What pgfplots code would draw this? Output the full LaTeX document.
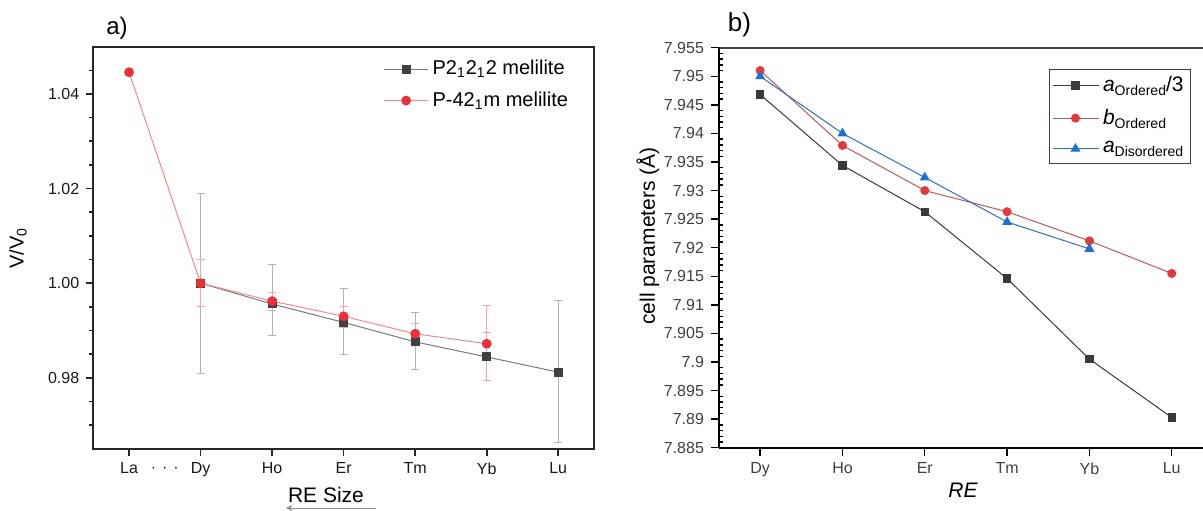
\documentclass[border=0pt]{standalone}
\usepackage{fontspec}
\setmainfont{Liberation Sans}
\usepackage{pgfplots}
\pgfplotsset{compat=1.18}
\usepackage{pgfplotstable}

\definecolor{blk}{HTML}{404040}
\definecolor{blkline}{HTML}{7A7A7A}
\definecolor{blkerr}{HTML}{B4B4B4}
\definecolor{redm}{HTML}{EC3038}
\definecolor{redline}{HTML}{F08A8A}
\definecolor{rederr}{HTML}{F2A8A8}
\definecolor{rblk}{HTML}{3A3A3A}
\definecolor{rred}{HTML}{E23A3A}
\definecolor{rredline}{HTML}{B85A5A}
\definecolor{rblue}{HTML}{1F6FD8}
\definecolor{rblueline}{HTML}{2F6FC0}
\definecolor{tl}{HTML}{404040}

\newcommand{\sub}[1]{\raisebox{-0.35ex}{\fontsize{7}{8}\selectfont #1}}

\pgfplotstableread{
x y ep em
1 1.0000 0.0190 0.0190
2 0.9956 0.0084 0.0067
3 0.9917 0.0072 0.0068
4 0.9876 0.0062 0.0058
5 0.9844 0.0051 0.0049
6 0.9812 0.0151 0.0148
}\leftblack

\pgfplotstableread{
x y ep em
0 1.0446 0.0000 0.0000
1 1.0000 0.0050 0.0050
2 0.9962 0.0018 0.0020
3 0.9930 0.0020 0.0023
4 0.9893 0.0022 0.0022
5 0.9872 0.0080 0.0078
}\leftred

\pgfplotstableread{
x y
0 7.9468
1 7.9344
2 7.9263
3 7.9146
4 7.9005
5 7.8903
}\rightblack

\pgfplotstableread{
x y
0 7.9510
1 7.9379
2 7.9300
3 7.9263
4 7.9212
5 7.9155
}\rightred

\pgfplotstableread{
x y
0 7.9500
1 7.9400
2 7.9323
3 7.9245
4 7.9198
}\rightblue

\begin{document}
\begin{tikzpicture}[x=1pt,y=1pt]
\useasboundingbox (0,0) rectangle (601.5,255);

% ---------------- panel a ----------------
\begin{axis}[
  at={(46.65pt,30.65pt)}, anchor=south west,
  scale only axis, width=250.35pt, height=201pt,
  xmin=-0.5, xmax=6.5, ymin=0.965, ymax=1.05,
  xtick={0,...,6}, xticklabels={La,Dy,Ho,Er,Tm,Yb,Lu},
  ytick={0.98,1.00,1.02,1.04},
  minor ytick={0.97,0.975,0.985,0.99,0.995,1.005,1.01,1.015,1.025,1.03,1.035,1.045},
  tick pos=left, tick align=outside,
  major tick length=3.5pt, minor tick length=2pt,
  axis line style={draw=black!85, line width=1pt},
  tick style={color=black!85, line width=0.8pt},
  scaled y ticks=false,
  yticklabel style={/pgf/number format/.cd, fixed, fixed zerofill, precision=2},
  /pgf/number format/assume math mode=true,
  ticklabel style={font=\fontsize{8}{9}\selectfont, text=black!90},
  clip=false,
  legend cell align=left,
  legend style={at={(axis description cs:0.575,0.982)}, anchor=north west,
    draw=none, fill=none, font=\fontsize{10}{12}\selectfont, row sep=3pt, inner sep=1pt},
  legend image code/.code={\draw[mark repeat=2,mark phase=2,#1] plot coordinates {(0pt,0pt) (11pt,0pt) (22pt,0pt)};},
]
\addplot[color=blkline, line width=0.5pt, mark=square*, mark size=2pt,
  mark options={draw=blk, fill=blk},
  error bars/.cd, y dir=both, y explicit,
  error bar style={color=blkerr, line width=0.5pt},
  error mark options={rotate=90, mark size=2pt, color=blkerr, line width=0.5pt}]
  table[x=x, y=y, y error plus=ep, y error minus=em]{\leftblack};
\addlegendentry{P2\textsubscript{1}2\textsubscript{1}2 melilite}
\addplot[color=redline, line width=0.5pt, mark=*, mark size=2.2pt,
  mark options={draw=redm, fill=redm},
  error bars/.cd, y dir=both, y explicit,
  error bar style={color=rederr, line width=0.5pt},
  error mark options={rotate=90, mark size=2pt, color=rederr, line width=0.5pt}]
  table[x=x, y=y, y error plus=ep, y error minus=em]{\leftred};
\addlegendentry{P-42\textsubscript{1}m melilite}
\node[font=\fontsize{8}{9}\selectfont, text=black!90] at (axis cs:0.5,0.965) [yshift=-10.6pt] {·\hspace{3pt}·\hspace{3pt}·};
\end{axis}

\node[font=\fontsize{12}{14}\selectfont] at (58.5,241) {a)};
\node[font=\fontsize{10}{12}\selectfont, rotate=90] at (9,131) {V/V\textsubscript{0}};
\node[font=\fontsize{10.5}{12}\selectfont] at (163,7.5) {RE Size};
\draw[black!45, line width=0.5pt, -stealth] (188,1) -- (143,1);

% ---------------- panel b ----------------
\begin{axis}[
  at={(359.5pt,31.15pt)}, anchor=south west,
  scale only axis, width=242pt, height=200pt,
  xmin=-0.5, xmax=5.38, ymin=7.885, ymax=7.955,
  axis x line*=bottom, axis y line*=left,
  xtick={0,...,5}, xticklabels={Dy,Ho,Er,Tm,Yb,Lu},
  ytick={7.885,7.89,7.895,7.9,7.905,7.91,7.915,7.92,7.925,7.93,7.935,7.94,7.945,7.95,7.955},
  minor y tick num=4,
  tick align=outside,
  major tick length=4pt, minor tick length=1.8pt,
  minor y tick style={xshift=1.8pt},
  axis line style={draw=black, line width=0.9pt},
  tick style={color=black, line width=0.7pt},
  scaled y ticks=false,
  yticklabel style={/pgf/number format/.cd, fixed, precision=3},
  /pgf/number format/assume math mode=true,
  ticklabel style={font=\fontsize{8}{9}\selectfont, text=tl},
  clip=false,
  legend cell align=left,
  legend style={at={(rel axis cs:0.681,0.9468)}, anchor=north west,
    draw=black!75, fill=white, font=\fontsize{10.5}{12}\selectfont, row sep=3.2pt, inner sep=1.5pt,
    nodes={inner xsep=2pt}},
  legend image code/.code={\draw[mark repeat=2,mark phase=2,#1] plot coordinates {(0pt,0pt) (11.5pt,0pt) (23pt,0pt)};},
]
\addplot[color=rblk, line width=0.5pt, mark=square*, mark size=1.8pt,
  mark options={draw=rblk, fill=rblk}] table[x=x,y=y]{\rightblack};
\addlegendentry{\textit{a}\sub{Ordered}/3}
\addplot[color=rredline, line width=0.5pt, mark=*, mark size=2pt,
  mark options={draw=rred, fill=rred}] table[x=x,y=y]{\rightred};
\addlegendentry{\textit{b}\sub{Ordered}}
\addplot[color=rblueline, line width=0.5pt, mark=triangle*, mark size=2.4pt,
  mark options={draw=rblue, fill=rblue}] table[x=x,y=y]{\rightblue};
\addlegendentry{\textit{a}\sub{Disordered}}
\draw[line width=0.9pt, black!75] (rel axis cs:0,1) -- (rel axis cs:1,1);
\end{axis}

\node[font=\fontsize{13}{15}\selectfont] at (369.75,242.5) {b)};
\node[font=\fontsize{10.5}{12}\selectfont, rotate=90] at (324,137) {cell parameters (Å)};
\node[font=\fontsize{10.5}{12}\selectfont\itshape] at (481.5,10) {RE};
\end{tikzpicture}
\end{document}
